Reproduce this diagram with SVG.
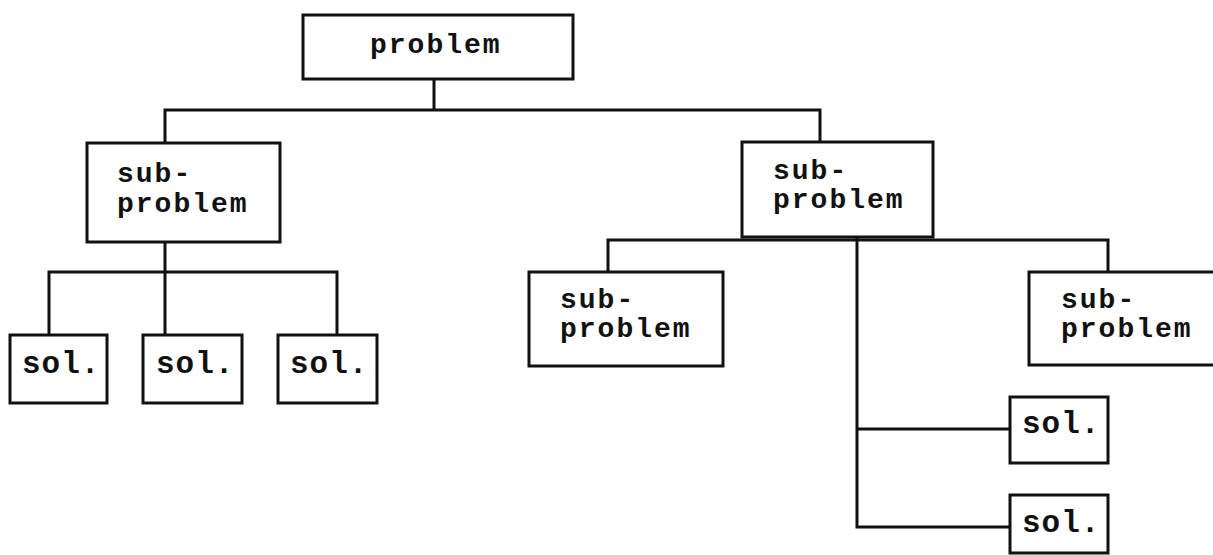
<svg xmlns="http://www.w3.org/2000/svg" width="1213" height="555" viewBox="0 0 1213 555">
<style>
.box{fill:#fff;stroke:#111;stroke-width:3}
.ln{fill:none;stroke:#111;stroke-width:3;stroke-linejoin:miter}
.t{font-family:"Liberation Mono",monospace;font-size:28px;letter-spacing:2px;fill:#111;font-weight:bold}
.s{font-family:"Liberation Mono",monospace;font-size:31px;letter-spacing:1px;fill:#111;font-weight:bold}
</style>
<rect width="1213" height="555" fill="#fff"/>
<g id="connectors">
<path class="ln" d="M434,79 V110 M165,143 V110 H820 V142"/>
<path class="ln" d="M165,242 V335 M49,335 V272 H337 V335"/>
<path class="ln" d="M608,272 V240 H1108 V272 M857,237 V527 H1010 M857,429 H1010"/>
</g>
<g id="n-problem"><rect class="box" x="303" y="15" width="270" height="64"/><text class="t" x="370" y="53">problem</text></g>
<g id="n-sub-left"><rect class="box" x="87" y="143" width="193" height="99"/><text class="t" x="117" y="182">sub-</text><text class="t" x="117" y="212">problem</text></g>
<g id="n-sub-right"><rect class="box" x="742" y="142" width="191" height="95"/><text class="t" x="773" y="179">sub-</text><text class="t" x="773" y="208">problem</text></g>
<g id="n-sub-rl"><rect class="box" x="529" y="272" width="194" height="94"/><text class="t" x="560" y="308">sub-</text><text class="t" x="560" y="337">problem</text></g>
<g id="n-sub-rr"><rect class="box" x="1029" y="272" width="200" height="93"/><text class="t" x="1061" y="308">sub-</text><text class="t" x="1061" y="337">problem</text></g>
<g id="n-sol1"><rect class="box" x="10" y="335" width="97" height="68"/><text class="s" x="22" y="373">sol.</text></g>
<g id="n-sol2"><rect class="box" x="143" y="335" width="99" height="68"/><text class="s" x="156" y="373">sol.</text></g>
<g id="n-sol3"><rect class="box" x="278" y="335" width="99" height="68"/><text class="s" x="290" y="373">sol.</text></g>
<g id="n-sol4"><rect class="box" x="1010" y="397" width="98" height="66"/><text class="s" x="1022" y="433">sol.</text></g>
<g id="n-sol5"><rect class="box" x="1010" y="495" width="98" height="58"/><text class="s" x="1022" y="532">sol.</text></g>
</svg>
